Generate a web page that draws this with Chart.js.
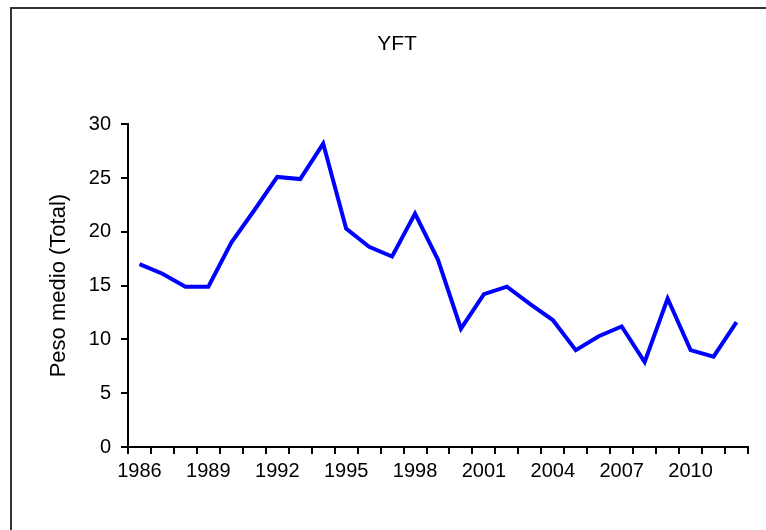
<!DOCTYPE html>
<html>
<head>
<meta charset="utf-8">
<script src="https://cdn.jsdelivr.net/npm/chart.js@4/dist/chart.umd.min.js"></script>
<style>
  html, body { margin: 0; padding: 0; background: #fff; overflow: hidden; }
  #marco {
    position: absolute; left: 10px; top: 7px;
    width: 800px; height: 600px;
    border: 2px solid #333;
  }
  #grafico { position: absolute; left: 0; top: 0; }
</style>
</head>
<body>
<div id="marco"></div>
<canvas id="grafico" width="766" height="530"></canvas>
<script>
// Datos del gráfico
const anios = [
    "1986","1987","1988","1989","1990","1991","1992","1993","1994",
    "1995","1996","1997","1998","1999","2000","2001","2002","2003",
    "2004","2005","2006","2007","2008","2009","2010","2011","2012"
];
const pesoMedio = [
    17.0, 16.1, 14.9, 14.9, 19.0, 22.0, 25.1, 24.9, 28.2,
    20.3, 18.6, 17.7, 21.7, 17.4, 11.0, 14.2, 14.9, 13.3,
    11.8, 9.0, 10.3, 11.2, 7.9, 13.8, 9.0, 8.4, 11.6
];
const ticksY = [0, 5, 10, 15, 20, 25, 30];
const titulo = "YFT";
const tituloY = "Peso medio (Total)";

const fuente = "'Liberation Sans', Arial, sans-serif";

new Chart(document.getElementById('grafico'), {
    type: 'line',
    data: {
        labels: anios,
        datasets: [{
            label: tituloY,
            data: pesoMedio,
            borderColor: '#0000FF',
            borderWidth: 4,
            tension: 0,
            pointRadius: 0,
            fill: false
        }]
    },
    options: {
        responsive: false,
        animation: false,
        layout: { padding: { left: 46, right: 18, top: 0, bottom: 0 } },
        plugins: {
            legend: { display: false },
            tooltip: { enabled: false },
            title: {
                display: true,
                text: titulo,
                color: '#000',
                font: { family: fuente, size: 21, weight: 'normal' },
                padding: { top: 32, bottom: 67 }
            }
        },
        scales: {
            x: {
                type: 'category',
                offset: true,
                afterFit: s => { s.height = 83; },
                border: { display: true, color: '#000', width: 2 },
                grid: {
                    display: true, offset: true, drawOnChartArea: false,
                    drawTicks: true, tickLength: 7, color: '#000', lineWidth: 2
                },
                ticks: {
                    autoSkip: false, maxRotation: 0, padding: 5,
                    color: '#000',
                    font: { family: fuente, size: 20 },
                    callback: function(val, idx) {
                        return idx % 3 === 0 ? this.getLabelForValue(val) : '';
                    }
                }
            },
            y: {
                min: 0, max: 30,
                afterFit: s => { s.width = 82; },
                afterBuildTicks: s => { s.ticks = ticksY.map(v => ({ value: v })); },
                border: { display: true, color: '#000', width: 2 },
                grid: {
                    display: true, drawOnChartArea: false,
                    drawTicks: true, tickLength: 7, color: '#000', lineWidth: 2
                },
                ticks: {
                    padding: 10, color: '#000',
                    font: { family: fuente, size: 20 }
                },
                title: {
                    display: true,
                    text: tituloY,
                    color: '#000',
                    font: { family: fuente, size: 22 },
                    padding: 0
                }
            }
        }
    }
});
</script>
</body>
</html>
